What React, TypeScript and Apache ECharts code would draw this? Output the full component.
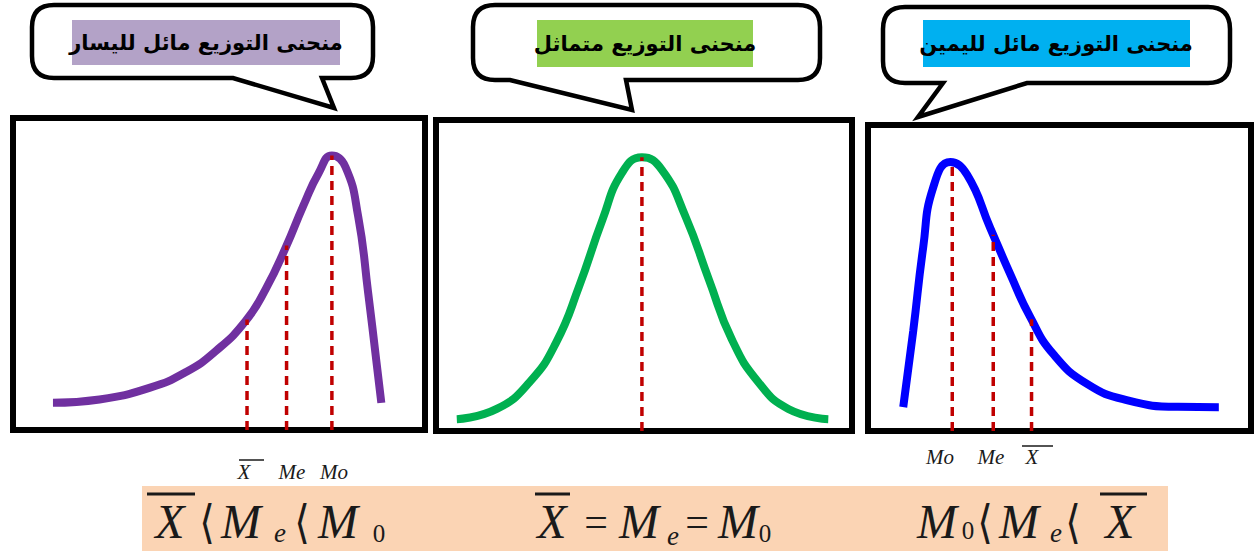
import React, { useEffect, useRef } from "react";
import * as echarts from "echarts";

// ---- data (x: 0..100 across each frame, y: 0..100 height) ----
const leftCurve: [number, number][] = [
  [9.7, 8.7], [21.0, 9.8], [33.1, 13.5], [42.0, 18.6], [49.3, 25.4], [56.5, 35.0],
  [61.4, 45.3], [66.2, 58.5], [70.5, 72.0], [74.2, 82.4], [77.4, 88.0], [80.7, 84.3],
  [83.8, 68.3], [86.2, 44.0], [88.2, 22.0], [89.4, 8.7],
];
const middleCurve: [number, number][] = [
  [5.0, 3.8], [14.6, 7.1], [22.5, 15.7], [28.9, 28.5], [34.4, 46.5], [40.0, 67.9],
  [44.7, 83.0], [49.5, 88.0], [54.3, 84.0], [60.0, 68.9], [65.6, 48.7], [71.1, 29.5],
  [77.5, 15.7], [84.7, 7.1], [94.3, 3.8],
];
const rightCurve: [number, number][] = [
  [9.2, 7.8], [11.8, 32.6], [14.4, 59.9], [17.0, 79.5], [21.5, 87.9], [25.9, 83.7],
  [31.9, 66.4], [37.2, 51.1], [42.4, 37.1], [48.4, 25.1], [57.3, 15.3], [67.8, 10.0],
  [80.9, 7.9], [91.6, 7.8],
];
// dashed reference lines: [x, height reached on the curve]
const leftMarks: [number, number][] = [[56.8, 35.4], [66.4, 59.1], [77.4, 88.0]];
const middleMarks: [number, number][] = [[49.5, 88.0]];
const rightMarks: [number, number][] = [[22.0, 87.8], [32.7, 64.1], [42.7, 36.5]];

const titles = ["منحنى التوزيع مائل لليسار", "منحنى التوزيع متماثل", "منحنى التوزيع مائل لليمين"];
const leftLabels = ["X", "Me", "Mo"];
const rightLabels = ["Mo", "Me", "X"];

const frames = [
  { left: 13, top: 118, width: 412, height: 312 },
  { left: 436, top: 120, width: 416, height: 311 },
  { left: 868, top: 125, width: 383, height: 306 },
];
const curveColors = ["#7030a0", "#00b050", "#0000ff"];
const highlightColors = ["#b3a2c7", "#92d050", "#00b0f0"];

function bubblePath(x1: number, y1: number, x2: number, y2: number, r: number, t: number[][]) {
  return (
    `M ${x1 + r} ${y1} L ${x2 - r} ${y1} Q ${x2} ${y1} ${x2} ${y1 + r} L ${x2} ${y2 - r} ` +
    `Q ${x2} ${y2} ${x2 - r} ${y2} L ${t[0][0]} ${t[0][1]} L ${t[1][0]} ${t[1][1]} L ${t[2][0]} ${t[2][1]} ` +
    `L ${x1 + r} ${y2} Q ${x1} ${y2} ${x1} ${y2 - r} L ${x1} ${y1 + r} Q ${x1} ${y1} ${x1 + r} ${y1} Z`
  );
}

echarts.graphic.registerShape(
  "bubbleL",
  echarts.graphic.extendPath(bubblePath(32, 5, 373, 78, 22, [[322, 78], [334, 108], [233, 78]]), {})
);
echarts.graphic.registerShape(
  "bubbleM",
  echarts.graphic.extendPath(bubblePath(473, 5, 820, 80, 22, [[626, 80], [632, 110], [510, 80]]), {})
);
echarts.graphic.registerShape(
  "bubbleR",
  echarts.graphic.extendPath(bubblePath(883, 7, 1230, 83, 22, [[1027, 83], [918, 117], [943, 83]]), {})
);

const serifIt = (text: string, x: number, y: number, size: number, italic = true) => ({
  type: "text",
  x,
  y,
  z: 20,
  style: {
    text,
    fill: "#1a1a1a",
    font: `${italic ? "italic " : ""}${size}px "Liberation Serif", "Times New Roman", serif`,
    textAlign: "center",
    textVerticalAlign: "middle",
  },
});
const bar = (x1: number, x2: number, y: number, w: number) => ({
  type: "line",
  z: 20,
  shape: { x1, y1: y, x2, y2: y },
  style: { stroke: "#1a1a1a", lineWidth: w },
});
const bracket = (x: number, y: number) => ({
  type: "text",
  x,
  y,
  z: 20,
  scaleY: 1.15,
  style: {
    text: "⟨",
    fill: "#1a1a1a",
    font: `40px "DejaVu Serif", serif`,
    textAlign: "center",
    textVerticalAlign: "middle",
  },
});

export default function App() {
  const ref = useRef<HTMLDivElement>(null);
  useEffect(() => {
    if (!ref.current) return;
    const chart = echarts.init(ref.current, undefined, { renderer: "svg" });
    const curves = [leftCurve, middleCurve, rightCurve];
    const marks = [leftMarks, middleMarks, rightMarks];
    const series: any[] = [];
    curves.forEach((c, i) => {
      series.push({
        type: "line",
        xAxisIndex: i,
        yAxisIndex: i,
        data: c,
        smooth: 0.5,
        symbol: "none",
        z: 3,
        lineStyle: { color: curveColors[i], width: 8 },
      });
      marks[i].forEach((m) => {
        series.push({
          type: "line",
          xAxisIndex: i,
          yAxisIndex: i,
          data: [[m[0], 0], [m[0], m[1]]],
          symbol: "none",
          z: 4,
          lineStyle: { color: "#c00000", width: 3.5, type: [9, 6] },
        });
      });
    });

    const bubbleStyle = { fill: "#fff", stroke: "#000", lineWidth: 4.5 };
    const highlights = [
      { x: 72, y: 20, w: 268, h: 45, cx: 206, cy: 43 },
      { x: 537, y: 20, w: 216, h: 47, cx: 645, cy: 44 },
      { x: 923, y: 20, w: 267, h: 47, cx: 1056, cy: 44 },
    ];
    const graphic: any[] = [
      { type: "bubbleL", x: 0, y: 0, z: 10, style: bubbleStyle },
      { type: "bubbleM", x: 0, y: 0, z: 10, style: bubbleStyle },
      { type: "bubbleR", x: 0, y: 0, z: 10, style: bubbleStyle },
    ];
    highlights.forEach((h, i) => {
      graphic.push({
        type: "rect",
        z: 11,
        shape: { x: h.x, y: h.y, width: h.w, height: h.h },
        style: { fill: highlightColors[i] },
      });
      graphic.push({
        type: "text",
        x: h.cx,
        y: h.cy,
        z: 12,
        style: {
          text: titles[i],
          fill: "#000",
          font: `bold 21px "DejaVu Sans", sans-serif`,
          textAlign: "center",
          textVerticalAlign: "middle",
        },
      });
    });

    // labels under the skewed frames
    const lx = [244, 292, 334];
    leftLabels.forEach((t, i) => graphic.push(serifIt(t, lx[i], 472, 21)));
    graphic.push(bar(239, 264, 460, 1.5));
    const rx = [940, 991, 1032];
    rightLabels.forEach((t, i) => graphic.push(serifIt(t, rx[i], 457, 21)));
    graphic.push(bar(1022, 1053, 446, 1.5));

    // peach band with the relations
    graphic.push({
      type: "rect",
      z: 15,
      shape: { x: 142, y: 486, width: 1026, height: 65 },
      style: { fill: "#fbd4b4" },
    });
    // left relation
    graphic.push(serifIt("X", 170, 521, 48));
    graphic.push(bar(147, 195, 494, 3));
    graphic.push(bracket(207, 522));
    graphic.push(serifIt("M", 241, 521, 48));
    graphic.push(serifIt("e", 280, 533, 27));
    graphic.push(bracket(302, 522));
    graphic.push(serifIt("M", 338, 521, 48));
    graphic.push(serifIt("0", 379, 533, 25, false));
    // middle relation
    graphic.push(serifIt("X", 552, 521, 48));
    graphic.push(bar(535, 570, 494, 3));
    graphic.push(serifIt("=", 596, 522, 42, false));
    graphic.push(serifIt("M", 639, 521, 48));
    graphic.push(serifIt("e", 673, 536, 27));
    graphic.push(serifIt("=", 697, 522, 42, false));
    graphic.push(serifIt("M", 738, 521, 48));
    graphic.push(serifIt("0", 765, 533, 25, false));
    // right relation
    graphic.push(serifIt("M", 937, 521, 48));
    graphic.push(serifIt("0", 968, 530, 25, false));
    graphic.push(bracket(985, 522));
    graphic.push(serifIt("M", 1019, 521, 48));
    graphic.push(serifIt("e", 1056, 533, 27));
    graphic.push(bracket(1073, 522));
    graphic.push(serifIt("X", 1120, 521, 48));
    graphic.push(bar(1100, 1147, 494, 3));

    chart.setOption({
      animation: false,
      backgroundColor: "#fff",
      grid: frames.map((f) => ({
        ...f,
        show: true,
        borderColor: "#000",
        borderWidth: 6,
        backgroundColor: "#fff",
      })),
      xAxis: frames.map((_, i) => ({ gridIndex: i, type: "value", min: 0, max: 100, show: false })),
      yAxis: frames.map((_, i) => ({ gridIndex: i, type: "value", min: 0, max: 100, show: false })),
      series,
      graphic,
    });
    return () => chart.dispose();
  }, []);
  return (
    <div
      ref={ref}
      style={{ position: "fixed", left: 0, top: 0, width: 1256, height: 552, background: "#fff" }}
    />
  );
}
